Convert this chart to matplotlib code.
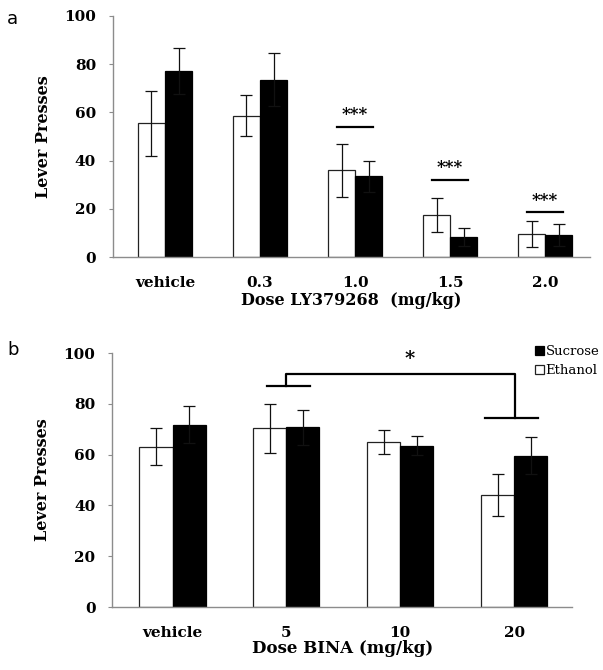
import matplotlib
matplotlib.use("Agg")
import matplotlib.pyplot as plt
import numpy as np

# Panel a data
cats_a = ["vehicle", "0.3", "1.0", "1.5", "2.0"]
ethanol_a = [55.5, 58.5, 36.0, 17.5, 9.5]
ethanol_a_err = [13.5, 8.5, 11.0, 7.0, 5.5]
sucrose_a = [77.0, 73.5, 33.5, 8.3, 9.0]
sucrose_a_err = [9.5, 11.0, 6.5, 3.7, 4.5]
sig_a_idx = [2, 3, 4]
sig_a_line = [54, 32, 18.5]

# Panel b data
cats_b = ["vehicle", "5", "10", "20"]
ethanol_b = [63.2, 70.4, 65.1, 44.2]
ethanol_b_err = [7.3, 9.7, 4.8, 8.2]
sucrose_b = [71.8, 70.7, 63.6, 59.6]
sucrose_b_err = [7.2, 6.8, 3.9, 7.2]

FONT = "DejaVu Serif"
plt.rcParams['font.family'] = FONT

fig = plt.figure(figsize=(6.03, 6.70), dpi=100)
ax1 = fig.add_axes([0.187, 0.6164, 0.791, 0.36])
ax2 = fig.add_axes([0.186, 0.094, 0.763, 0.379])

def draw(ax, cats, eth, eth_err, suc, suc_err, width, left, right):
    x = np.arange(len(cats))
    ekw = dict(ecolor="#111111", elinewidth=0.9, capsize=4, capthick=0.9)
    ax.bar(x - width/2, eth, width, color="white", edgecolor="#222222", linewidth=0.9,
           yerr=eth_err, error_kw=ekw, label="Ethanol", zorder=2)
    ax.bar(x + width/2, suc, width, color="black", edgecolor="black", linewidth=0.9,
           yerr=suc_err, error_kw=ekw, label="Sucrose", zorder=2)
    ax.set_xlim(-left, len(cats) - 1 + right)
    ax.set_ylim(0, 100)
    ax.set_yticks([0, 20, 40, 60, 80, 100])
    ax.set_xticks(x)
    ax.set_xticklabels(cats, fontweight="bold", fontsize=11)
    for lab in ax.get_yticklabels():
        lab.set_fontweight("bold")
        lab.set_fontsize(11)
    ax.tick_params(axis="x", length=0, pad=14)
    ax.tick_params(axis="y", length=3, width=0.8, color="#8c8c8c", pad=9)
    for s in ["top", "right"]:
        ax.spines[s].set_visible(False)
    for s in ["left", "bottom"]:
        ax.spines[s].set_color("#8c8c8c")
        ax.spines[s].set_linewidth(1.0)
    ax.set_ylabel("Lever Presses", fontweight="bold", fontsize=11.5, labelpad=9)

draw(ax1, cats_a, ethanol_a, ethanol_a_err, sucrose_a, sucrose_a_err, 0.285, 0.55, 0.47)
ax1.set_xlabel("Dose LY379268  (mg/kg)", fontweight="bold", fontsize=11.5, labelpad=1)
for i, yv in zip(sig_a_idx, sig_a_line):
    ax1.plot([i - 0.19, i + 0.19], [yv, yv], color="black", lw=1.6)
    ax1.text(i, yv + 1.5, "***", ha="center", va="bottom", fontsize=12, fontweight="bold")

draw(ax2, cats_b, ethanol_b, ethanol_b_err, sucrose_b, sucrose_b_err, 0.29, 0.53, 0.51)
ax2.set_xlabel("Dose BINA (mg/kg)", fontweight="bold", fontsize=12, labelpad=0)
# significance bracket
ax2.plot([0.83, 1.21], [87.2, 87.2], color="black", lw=1.6, clip_on=False)
ax2.plot([1.0, 1.0, 3.01, 3.01], [87.2, 91.7, 91.7, 74.6], color="black", lw=1.6, clip_on=False)
ax2.plot([2.74, 3.21], [74.6, 74.6], color="black", lw=1.6, clip_on=False)
ax2.text(2.08, 94.0, "*", ha="center", va="bottom", fontsize=14, fontweight="bold")

# legend (Sucrose first)
h, l = ax2.get_legend_handles_labels()
leg = fig.legend([h[1], h[0]], [l[1], l[0]], loc="upper left",
                 bbox_to_anchor=(535 / 603, 1 - 345 / 670), bbox_transform=fig.transFigure,
                 frameon=False, fontsize=9.5, handlelength=0.65, handleheight=0.65,
                 handletextpad=0.15, labelspacing=0.45, borderaxespad=0, borderpad=0)

fig.text(0.012, 0.972, "a", fontsize=13, family="DejaVu Sans", va="center")
fig.text(0.012, 0.478, "b", fontsize=13, family="DejaVu Sans", va="center")

fig.savefig("out.png", dpi=100)
